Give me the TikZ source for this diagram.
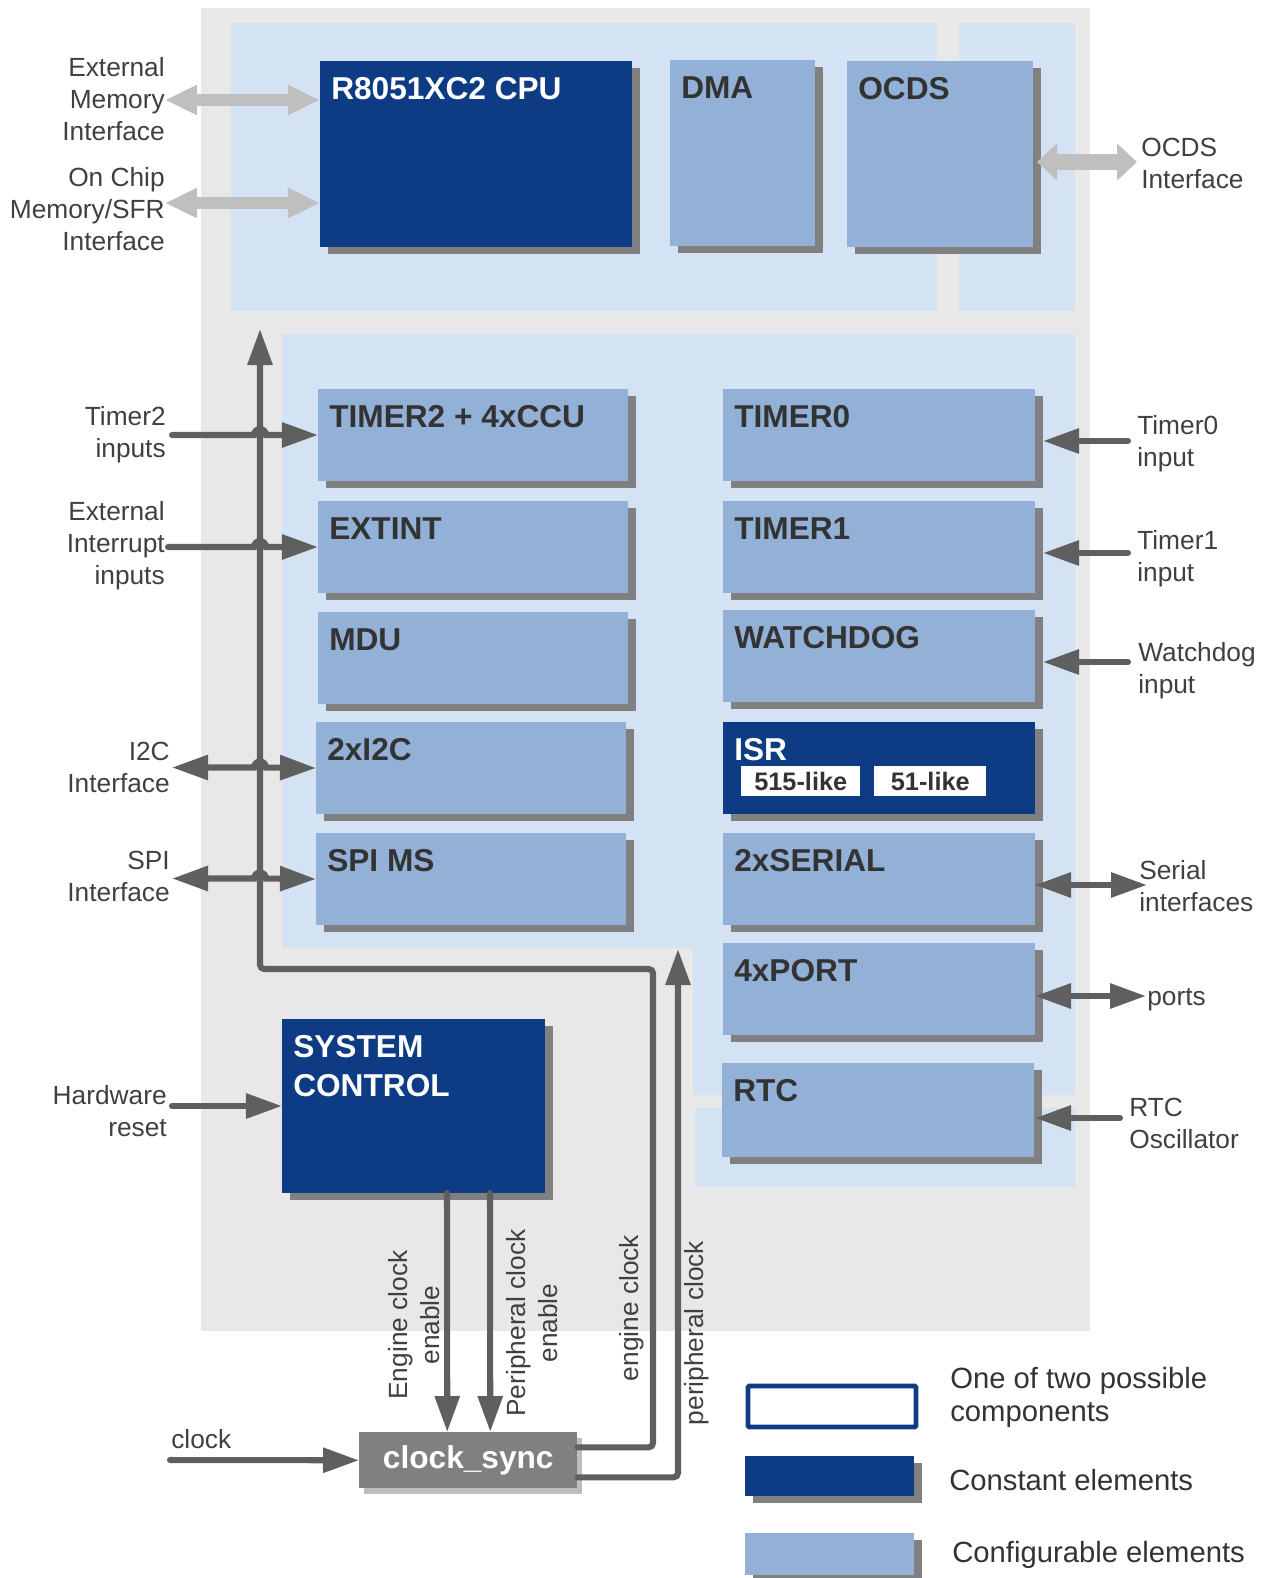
\documentclass[tikz,border=0pt]{standalone}
\usepackage{fontspec}
\setmainfont{Liberation Sans}
\usetikzlibrary{arrows.meta}
\definecolor{bggray}{HTML}{E8E8E8}
\definecolor{panelblue}{HTML}{D3E3F4}
\definecolor{cfgblue}{HTML}{93B0D7}
\definecolor{constblue}{HTML}{0D3C84}
\definecolor{shadowgray}{HTML}{808080}
\definecolor{wiregray}{HTML}{5F5F5F}
\definecolor{ifgray}{HTML}{BFBFBF}
\definecolor{textgray}{HTML}{404040}
\definecolor{titlegray}{HTML}{333333}
\definecolor{syncshadow}{HTML}{BDBDBD}
\newcommand{\px}{0.025cm}
\def\block[#1](#2)(#3,#4)(#5,#6)#7{%
  \fill[shadowgray] (#3+8,#4+7) rectangle ++(#5,#6);
  \node[#1, minimum width=#5*\px, minimum height=#6*\px] (#2) at (#3,#4) {};
  \node[ttl, #1 ttl] (#2-t) at ([shift={(11,16)}]#2.north west) {#7};}

\begin{document}
\begin{tikzpicture}[x=0.025cm, y=-0.025cm,
		cfgblk/.style={fill=cfgblue, anchor=north west, inner sep=0pt, outer sep=0pt},
		constblk/.style={fill=constblue, anchor=north west, inner sep=0pt, outer sep=0pt},
		cfgblk ttl/.style={text=titlegray},
		constblk ttl/.style={text=white},
		ttl/.style={font=\fontsize{22.5}{27.7}\selectfont\bfseries, inner sep=0pt, anchor=north west, align=left},
		lbl/.style={font=\fontsize{18.7}{22.8}\selectfont, text=textgray, inner sep=0pt},
		keytxt/.style={font=\fontsize{20.8}{23.5}\selectfont, text=titlegray, inner sep=0pt, align=left},
		subbox/.style={fill=white, anchor=north west, inner sep=0pt, text=titlegray, font=\fontsize{18}{20}\selectfont\bfseries},
		syncblk/.style={fill=shadowgray, anchor=north west, inner sep=0pt, text=white, font=\fontsize{22.5}{27}\selectfont\bfseries},
		sig/.style={draw=wiregray, line width=4.3pt, line cap=round},
		wire/.style={sig, -{Triangle[length=0.9cm, width=0.6cm]}},
		biwire/.style={sig, {Triangle[length=0.9cm, width=0.6cm]}-{Triangle[length=0.9cm, width=0.6cm]}},
		memlink/.style={draw=ifgray, line width=8.5pt, {Triangle[length=0.8cm, width=0.7cm]}-{Triangle[length=0.8cm, width=0.7cm]}},
		ocdslink/.style={draw=ifgray, line width=11pt, {Triangle[length=0.5cm, width=0.9cm]}-{Triangle[length=0.5cm, width=0.9cm]}}]
	\useasboundingbox (0,0) rectangle (1265,1578);
	
	% background and panels
	\fill[bggray] (201,8) rectangle (1090,1331);
	\fill[panelblue] (231,23) rectangle (937,311);
	\fill[panelblue] (959,23) rectangle (1075,311);
	\fill[panelblue] (282,334) -- (1075,334) -- (1075,1095) -- (693,1095) -- (693,948) -- (282,948) -- cycle;
	\fill[panelblue] (695,1108) rectangle (1075,1187);
	
	% blocks
	\block[constblk](cpu)(320,61)(312,186){R8051XC2 CPU}
	\block[cfgblk](dma)(670,60)(145,186){DMA}
	\block[cfgblk](ocds)(847,61)(186,186){OCDS}
	\block[cfgblk](tmr2)(318,389)(310,92){TIMER2 + 4xCCU}
	\block[cfgblk](extint)(318,501)(310,92){EXTINT}
	\block[cfgblk](mdu)(318,612)(310,92){MDU}
	\block[cfgblk](iic)(316,722)(310,92){2xI2C}
	\block[cfgblk](spi)(316,833)(310,92){SPI MS}
	\block[cfgblk](tmr0)(723,389)(312,92){TIMER0}
	\block[cfgblk](tmr1)(723,501)(312,92){TIMER1}
	\block[cfgblk](wdog)(723,610)(312,92){WATCHDOG}
	\block[constblk](isr)(723,722)(312,92){ISR}
	\block[cfgblk](serial)(723,833)(312,92){2xSERIAL}
	\block[cfgblk](port)(723,943)(312,92){4xPORT}
	\block[cfgblk](rtc)(722,1063)(312,94){RTC}
	\block[constblk](sysctl)(282,1019)(263,174){SYSTEM\\CONTROL}
	
	\node[subbox, minimum width=119*\px, minimum height=30*\px] (isr515) at (741,766) {515-like};
	\node[subbox, minimum width=112*\px, minimum height=30*\px] (isr51) at (874,766) {51-like};
	
	\fill[syncshadow] (364,1438) rectangle ++(218,56);
	\node[syncblk, minimum width=218*\px, minimum height=56*\px] (sync) at (359,1432) {clock\_sync};
	
	% free ends
	\coordinate (extmem-in) at (165,100);
	\coordinate (onchip-in) at (165,203);
	\coordinate (ocds-out) at (1137,162);
	\coordinate (tmr2-in) at (172,435);
	\coordinate (extint-in) at (168,547);
	\coordinate (iic-out) at (172,767.5);
	\coordinate (spi-out) at (172,878.5);
	\coordinate (reset-in) at (172,1106);
	\coordinate (clk-in) at (170,1460);
	\coordinate (tmr0-in) at (1128,441);
	\coordinate (tmr1-in) at (1128,553);
	\coordinate (wdog-in) at (1128,662);
	\coordinate (serial-out) at (1147,885);
	\coordinate (port-out) at (1146,996);
	\coordinate (rtc-in) at (1120,1118);
	\coordinate (bustop) at (260,329);
	\coordinate (ebend) at (653,969);
	\coordinate (ptop) at (678,949);
	
	% interfaces
	\draw[memlink] (extmem-in) -- ([shift={(0,-54)}]cpu.west);
	\draw[memlink] (onchip-in) -- ([shift={(0,49)}]cpu.west);
	\draw[ocdslink] ([shift={(4,8)}]ocds.east) -- (ocds-out);
	
	% clocks
	\draw[wire, rounded corners=3pt] ([shift={(0,-13)}]sync.east) -| (ebend) -| (bustop);
	\draw[wire, rounded corners=3pt] ([shift={(0,17)}]sync.east) -| (ptop);
	\draw[wire] ([shift={(33.5,0)}]sysctl.south) -- ([shift={(-21,0)}]sync.north);
	\draw[wire] ([shift={(76.5,0)}]sysctl.south) -- ([shift={(22,0)}]sync.north);
	\draw[wire] (clk-in) -- (sync.west);
	\draw[wire] (reset-in) -- (sysctl.west);
	
	% left inputs, hopping over the bus
	\draw[wire] (tmr2-in) -- ++(82,0) arc[start angle=180, end angle=360, radius=6] -- (tmr2.west);
	\draw[wire] (extint-in) -- ++(86,0) arc[start angle=180, end angle=360, radius=6] -- (extint.west);
	\draw[biwire] (iic-out) -- ++(82,0) arc[start angle=180, end angle=360, radius=6] -- (iic.west);
	\draw[biwire] (spi-out) -- ++(82,0) arc[start angle=180, end angle=360, radius=6] -- (spi.west);
	
	% right inputs
	\draw[wire] (tmr0-in) -- ([shift={(8,6)}]tmr0.east);
	\draw[wire] (tmr1-in) -- ([shift={(8,6)}]tmr1.east);
	\draw[wire] (wdog-in) -- ([shift={(8,6)}]wdog.east);
	\draw[biwire] ([shift={(0,6)}]serial.east) -- (serial-out);
	\draw[biwire] ([shift={(0,7)}]port.east) -- (port-out);
	\draw[wire] (rtc-in) -- ([shift={(1,8)}]rtc.east);
	
	% labels
	\node[lbl, anchor=east, align=right] (extmem-l) at (165,99) {External\\Memory\\Interface};
	\node[lbl, anchor=east, align=right] (onchip-l) at (165,209) {On Chip\\Memory/SFR\\Interface};
	\node[lbl, anchor=east, align=right] (tmr2-l) at (166,435) {Timer2\\inputs};
	\node[lbl, anchor=east, align=right] (extint-l) at (165,546) {External\\Interrupt\\inputs};
	\node[lbl, anchor=east, align=right] (iic-l) at (170,767) {I2C\\Interface};
	\node[lbl, anchor=east, align=right] (spi-l) at (170,876) {SPI\\Interface};
	\node[lbl, anchor=east, align=right] (reset-l) at (167,1111) {Hardware\\reset};
	\node[lbl, anchor=base west] (clk-l) at (171,1448) {clock};
	\node[lbl, anchor=west, align=left] (ocds-l) at (1141,163) {OCDS\\Interface};
	\node[lbl, anchor=west, align=left] (tmr0-l) at (1137,444) {Timer0\\input};
	\node[lbl, anchor=west, align=left] (tmr1-l) at (1137,559) {Timer1\\input};
	\node[lbl, anchor=west, align=left] (wdog-l) at (1138,671) {Watchdog\\input};
	\node[lbl, anchor=west, align=left] (serial-l) at (1139,886) {Serial\\interfaces};
	\node[lbl, anchor=base west] (port-l) at (1147,1005) {ports};
	\node[lbl, anchor=west, align=left] (rtc-l) at (1129,1123) {RTC\\Oscillator};
	\node[lbl, rotate=90, align=center] (ece-l) at (414,1325) {Engine clock\\enable};
	\node[lbl, rotate=90, align=center] (pce-l) at (532,1323) {Peripheral clock\\enable};
	\node[lbl, rotate=90] (eclk-l) at (632,1308) {engine clock};
	\node[lbl, rotate=90] (pclk-l) at (697,1333) {peripheral clock};
	
	% legend
	\node[draw=constblue, line width=3.5pt, fill=white, rounded corners=1pt, anchor=north west, inner sep=0pt, minimum width=168*\px, minimum height=41*\px] (keyopt) at (745.5,1383.5) {};
	\block[constblk](keyconst)(745,1456)(169,40){}
	\block[cfgblk](keycfg)(745,1533)(169,42){}
	\node[keytxt, anchor=west] (keyopt-l) at (950,1397) {One of two possible\\components};
	\node[keytxt, anchor=west] (keyconst-l) at (949,1480) {Constant elements};
	\node[keytxt, anchor=west] (keycfg-l) at (952,1555) {Configurable elements};
\end{tikzpicture}
\end{document}
